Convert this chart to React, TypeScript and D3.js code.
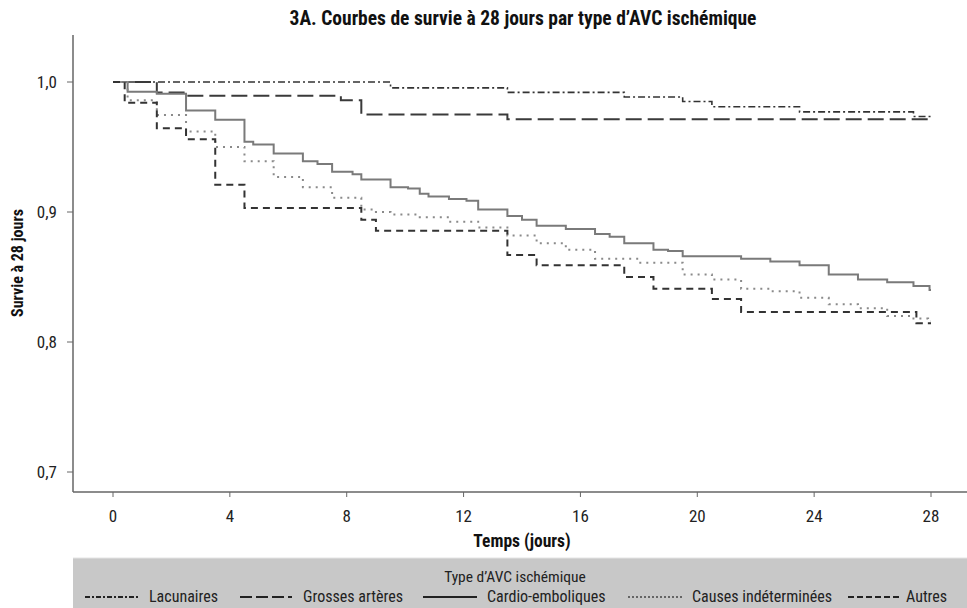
import React from "react";
import * as d3 from "d3";

const title = "3A. Courbes de survie à 28 jours par type d’AVC ischémique";
const xLabel = "Temps (jours)";
const yLabel = "Survie à 28 jours";
const legendTitle = "Type d’AVC ischémique";
const xTicks = [0, 4, 8, 12, 16, 20, 24, 28];
const yTicks = [0.7, 0.8, 0.9, 1.0];
const endTime = 28;

const lacunairesT = [0, 9.5, 13.5, 17.5, 19.5, 20.5, 23.5, 27.4];
const lacunairesV = [1.0, 0.9955, 0.992, 0.9885, 0.985, 0.981, 0.977, 0.9735];

const grossesT = [0, 1.5, 2.5, 7.8, 8.5, 13.5];
const grossesV = [1.0, 0.992, 0.9895, 0.986, 0.975, 0.9713];

const cardioT = [0, 0.5, 1.5, 2.5, 3.5, 4.5, 4.8, 5.5, 6.5, 7.0, 7.5, 8.2, 8.5, 9.5, 10.1, 10.5, 10.8, 11.5, 12.1, 12.5, 13.5, 14.0, 14.5, 15.5, 16.5, 17.0, 17.5, 18.5, 19.0, 19.5, 21.5, 22.5, 23.5, 24.5, 25.5, 26.5, 27.4, 27.95];
const cardioV = [1.0, 0.9925, 0.991, 0.978, 0.971, 0.954, 0.952, 0.945, 0.939, 0.937, 0.931, 0.929, 0.925, 0.919, 0.918, 0.914, 0.912, 0.910, 0.9087, 0.902, 0.897, 0.894, 0.8895, 0.887, 0.883, 0.881, 0.876, 0.871, 0.870, 0.866, 0.864, 0.862, 0.859, 0.852, 0.848, 0.846, 0.843, 0.840];

const causesT = [0, 0.5, 1.5, 2.5, 3.5, 4.5, 5.5, 6.5, 7.5, 8.5, 9.0, 9.5, 10.5, 11.5, 12.5, 13.5, 14.5, 15.5, 16.5, 18.0, 19.5, 20.5, 21.5, 22.5, 23.5, 24.5, 25.5, 26.5, 27.4, 27.9];
const causesV = [1.0, 0.986, 0.9746, 0.962, 0.950, 0.939, 0.927, 0.919, 0.911, 0.902, 0.900, 0.898, 0.896, 0.8925, 0.888, 0.882, 0.876, 0.871, 0.864, 0.861, 0.852, 0.848, 0.841, 0.839, 0.834, 0.829, 0.826, 0.820, 0.818, 0.816];

const autresT = [0, 0.4, 1.5, 2.5, 3.5, 4.5, 8.5, 9.0, 13.5, 14.5, 17.5, 18.5, 20.5, 21.5, 27.5];
const autresV = [1.0, 0.984, 0.9645, 0.956, 0.921, 0.903, 0.894, 0.8855, 0.867, 0.859, 0.850, 0.841, 0.833, 0.823, 0.8145];

const seriesNames = ["Lacunaires", "Grosses artères", "Cardio-emboliques", "Causes indéterminées", "Autres"];

const styles = [
  { stroke: "#333", width: 1.6, dash: "7,3,2,3" },
  { stroke: "#3a3a3a", width: 2, dash: "16,6" },
  { stroke: "#7a7a7a", width: 2, dash: "" },
  { stroke: "#8a8a8a", width: 2, dash: "2,5" },
  { stroke: "#333", width: 2, dash: "7,5" },
];

const FONT = "'Liberation Sans Narrow', 'Arial Narrow', 'Roboto Condensed', sans-serif";

export default function App() {
  const W = 967, H = 608;
  const x = d3.scaleLinear().domain([0, 28]).range([113, 931]);
  const y = d3.scaleLinear().domain([0.7, 1.0]).range([472, 82]);
  const axisLeft = 73, axisBottom = 492, axisTop = 35, axisRight = 967;

  const data = [
    [lacunairesT, lacunairesV],
    [grossesT, grossesV],
    [cardioT, cardioV],
    [causesT, causesV],
    [autresT, autresV],
  ];

  const line = d3
    .line<[number, number]>()
    .x((d) => x(d[0]))
    .y((d) => y(d[1]))
    .curve(d3.curveStepAfter);

  const paths = data.map(([ts, vs]) => {
    const pts: [number, number][] = ts.map((t, i) => [t, vs[i]]);
    pts.push([endTime, vs[vs.length - 1]]);
    return line(pts) || "";
  });

  const legendItems = [
    { sx: 85, sw: 55, tx: 149 },
    { sx: 240, sw: 52, tx: 303 },
    { sx: 423, sw: 54, tx: 487 },
    { sx: 628, sw: 55, tx: 692 },
    { sx: 848, sw: 52, tx: 906 },
  ];

  return (
    <svg width={W} height={H} style={{ position: "absolute", left: 0, top: 0, background: "#fff" }}>
      <text x={523} y={25} textAnchor="middle" fontFamily={FONT} fontWeight="bold" fontSize={19.5} fill="#111">
        {title}
      </text>

      {/* axes */}
      <line x1={axisLeft} x2={axisLeft} y1={axisTop} y2={axisBottom} stroke="#666" strokeWidth={1.5} />
      <line x1={axisLeft} x2={axisRight} y1={axisBottom} y2={axisBottom} stroke="#666" strokeWidth={1.5} />
      {yTicks.map((t) => (
        <g key={t}>
          <line x1={axisLeft - 6} x2={axisLeft} y1={y(t)} y2={y(t)} stroke="#666" strokeWidth={1} />
          <text x={57} y={y(t) + 6} textAnchor="end" fontFamily={FONT} fontSize={17} fill="#222">
            {t.toFixed(1).replace(".", ",")}
          </text>
        </g>
      ))}
      {xTicks.map((t) => (
        <g key={t}>
          <line x1={x(t)} x2={x(t)} y1={axisBottom} y2={axisBottom + 5} stroke="#666" strokeWidth={1} />
          <text x={x(t)} y={522} textAnchor="middle" fontFamily={FONT} fontSize={17} fill="#222">
            {t}
          </text>
        </g>
      ))}
      <text x={522} y={547} textAnchor="middle" fontFamily={FONT} fontWeight="bold" fontSize={17.5} fill="#111">
        {xLabel}
      </text>
      <text
        transform={`translate(23,${263}) rotate(-90)`}
        textAnchor="middle"
        fontFamily={FONT}
        fontWeight="bold"
        fontSize={16}
        fill="#111"
      >
        {yLabel}
      </text>

      {/* curves */}
      {paths.map((p, i) => (
        <path
          key={i}
          d={p}
          fill="none"
          stroke={styles[i].stroke}
          strokeWidth={styles[i].width}
          strokeDasharray={styles[i].dash || undefined}
        />
      ))}

      {/* legend */}
      <rect x={73} y={558} width={894} height={50} fill="#c8c8c8" />
      <line x1={73} x2={967} y1={558} y2={558} stroke="#e4e4e4" strokeWidth={1} />
      <text x={515} y={582} textAnchor="middle" fontFamily={FONT} fontSize={15.5} fill="#222">
        {legendTitle}
      </text>
      {legendItems.map((it, i) => (
        <g key={i}>
          <line
            x1={it.sx}
            x2={it.sx + it.sw}
            y1={597}
            y2={597}
            stroke={i === 3 ? "#444" : "#222"}
            strokeWidth={i === 3 ? 1.6 : 2}
            strokeDasharray={i === 0 ? "5,2,2,2" : i === 1 ? "12,4" : i === 3 ? "2,2" : i === 4 ? "6,3" : undefined}
          />
          <text x={it.tx} y={602} fontFamily={FONT} fontSize={16} fill="#222">
            {seriesNames[i]}
          </text>
        </g>
      ))}
    </svg>
  );
}
